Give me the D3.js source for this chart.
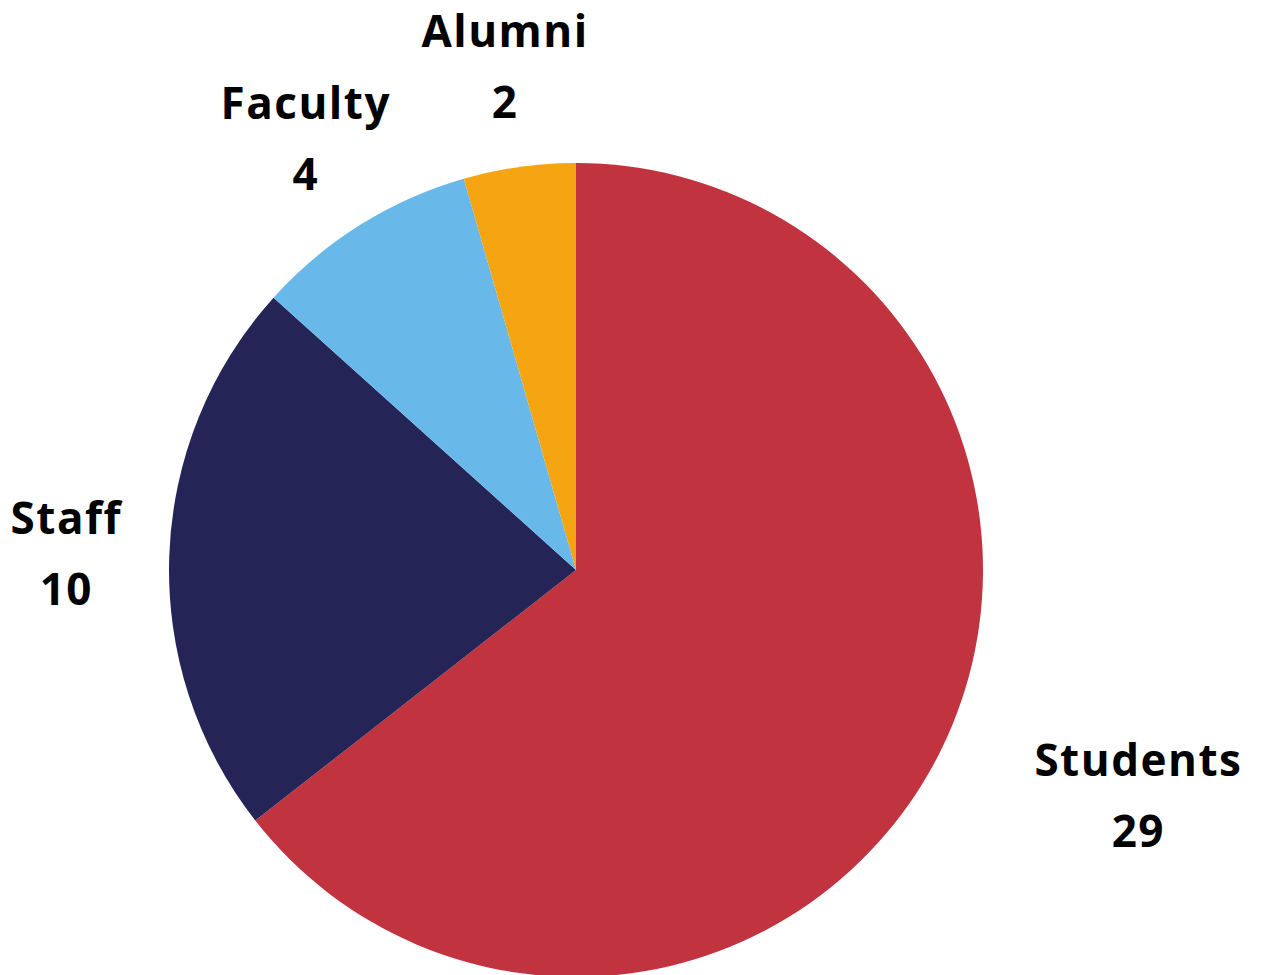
<!DOCTYPE html>
<html><head><meta charset="utf-8">
<script src="https://cdn.jsdelivr.net/npm/d3@7"></script>
<style>html,body{margin:0;padding:0;background:#fff;overflow:hidden}</style>
</head><body>
<svg id="chart" width="1266" height="975"></svg>
<script>
const categories = ["Students", "Staff", "Faculty", "Alumni"];
const values = [29, 10, 4, 2];
const colors = ["#C1333E", "#252457", "#68B8EA", "#F5A511"];

const W = 1266, H = 975;
const cx = 576, cy = 570, radius = 407, labelR = 510;
const svg = d3.select("#chart");
const g = svg.append("g").attr("transform", `translate(${cx},${cy})`);

const data = categories.map((c, i) => ({name: c, value: values[i], color: colors[i]}));
const pie = d3.pie().sort(null).value(d => d.value).startAngle(0).endAngle(2 * Math.PI);
const arcs = pie(data);
const arc = d3.arc().innerRadius(0).outerRadius(radius);

g.selectAll("path").data(arcs).join("path")
  .attr("d", arc).attr("fill", d => d.data.color);

const font = "'Open Sans', 'DejaVu Sans', sans-serif";
const labels = g.selectAll("g.lab").data(arcs).join("g").attr("class", "lab");
labels.each(function(d) {
  const a = (d.startAngle + d.endAngle) / 2;
  const x = labelR * Math.sin(a), y = -labelR * Math.cos(a);
  const sel = d3.select(this).attr("transform", `translate(${x},${y})`);
  const mk = (txt, dy) => sel.append("text").attr("y", dy).attr("dominant-baseline", "central")
    .attr("text-anchor", "middle").attr("font-family", font).attr("font-weight", 700)
    .attr("font-size", 44).attr("letter-spacing", "1.5px").attr("fill", "#000").text(txt);
  const t1 = mk(d.data.name, -35);
  const t2 = mk(d.data.value, 36);
  // if centered box would come too close to the pie, push it outward
  const w = Math.max(t1.node().getBBox().width, t2.node().getBBox().width);
  const hw = w / 2, hh = 70;
  const nx = Math.sign(x) * Math.max(0, Math.abs(x) - hw);
  const ny = Math.sign(y) * Math.max(0, Math.abs(y) - hh / 2);
  if (Math.hypot(nx, ny) < radius + 20) {
    sel.selectAll("text").attr("x", x > 0 ? hw : -hw);
  }
});
</script>
</body></html>
